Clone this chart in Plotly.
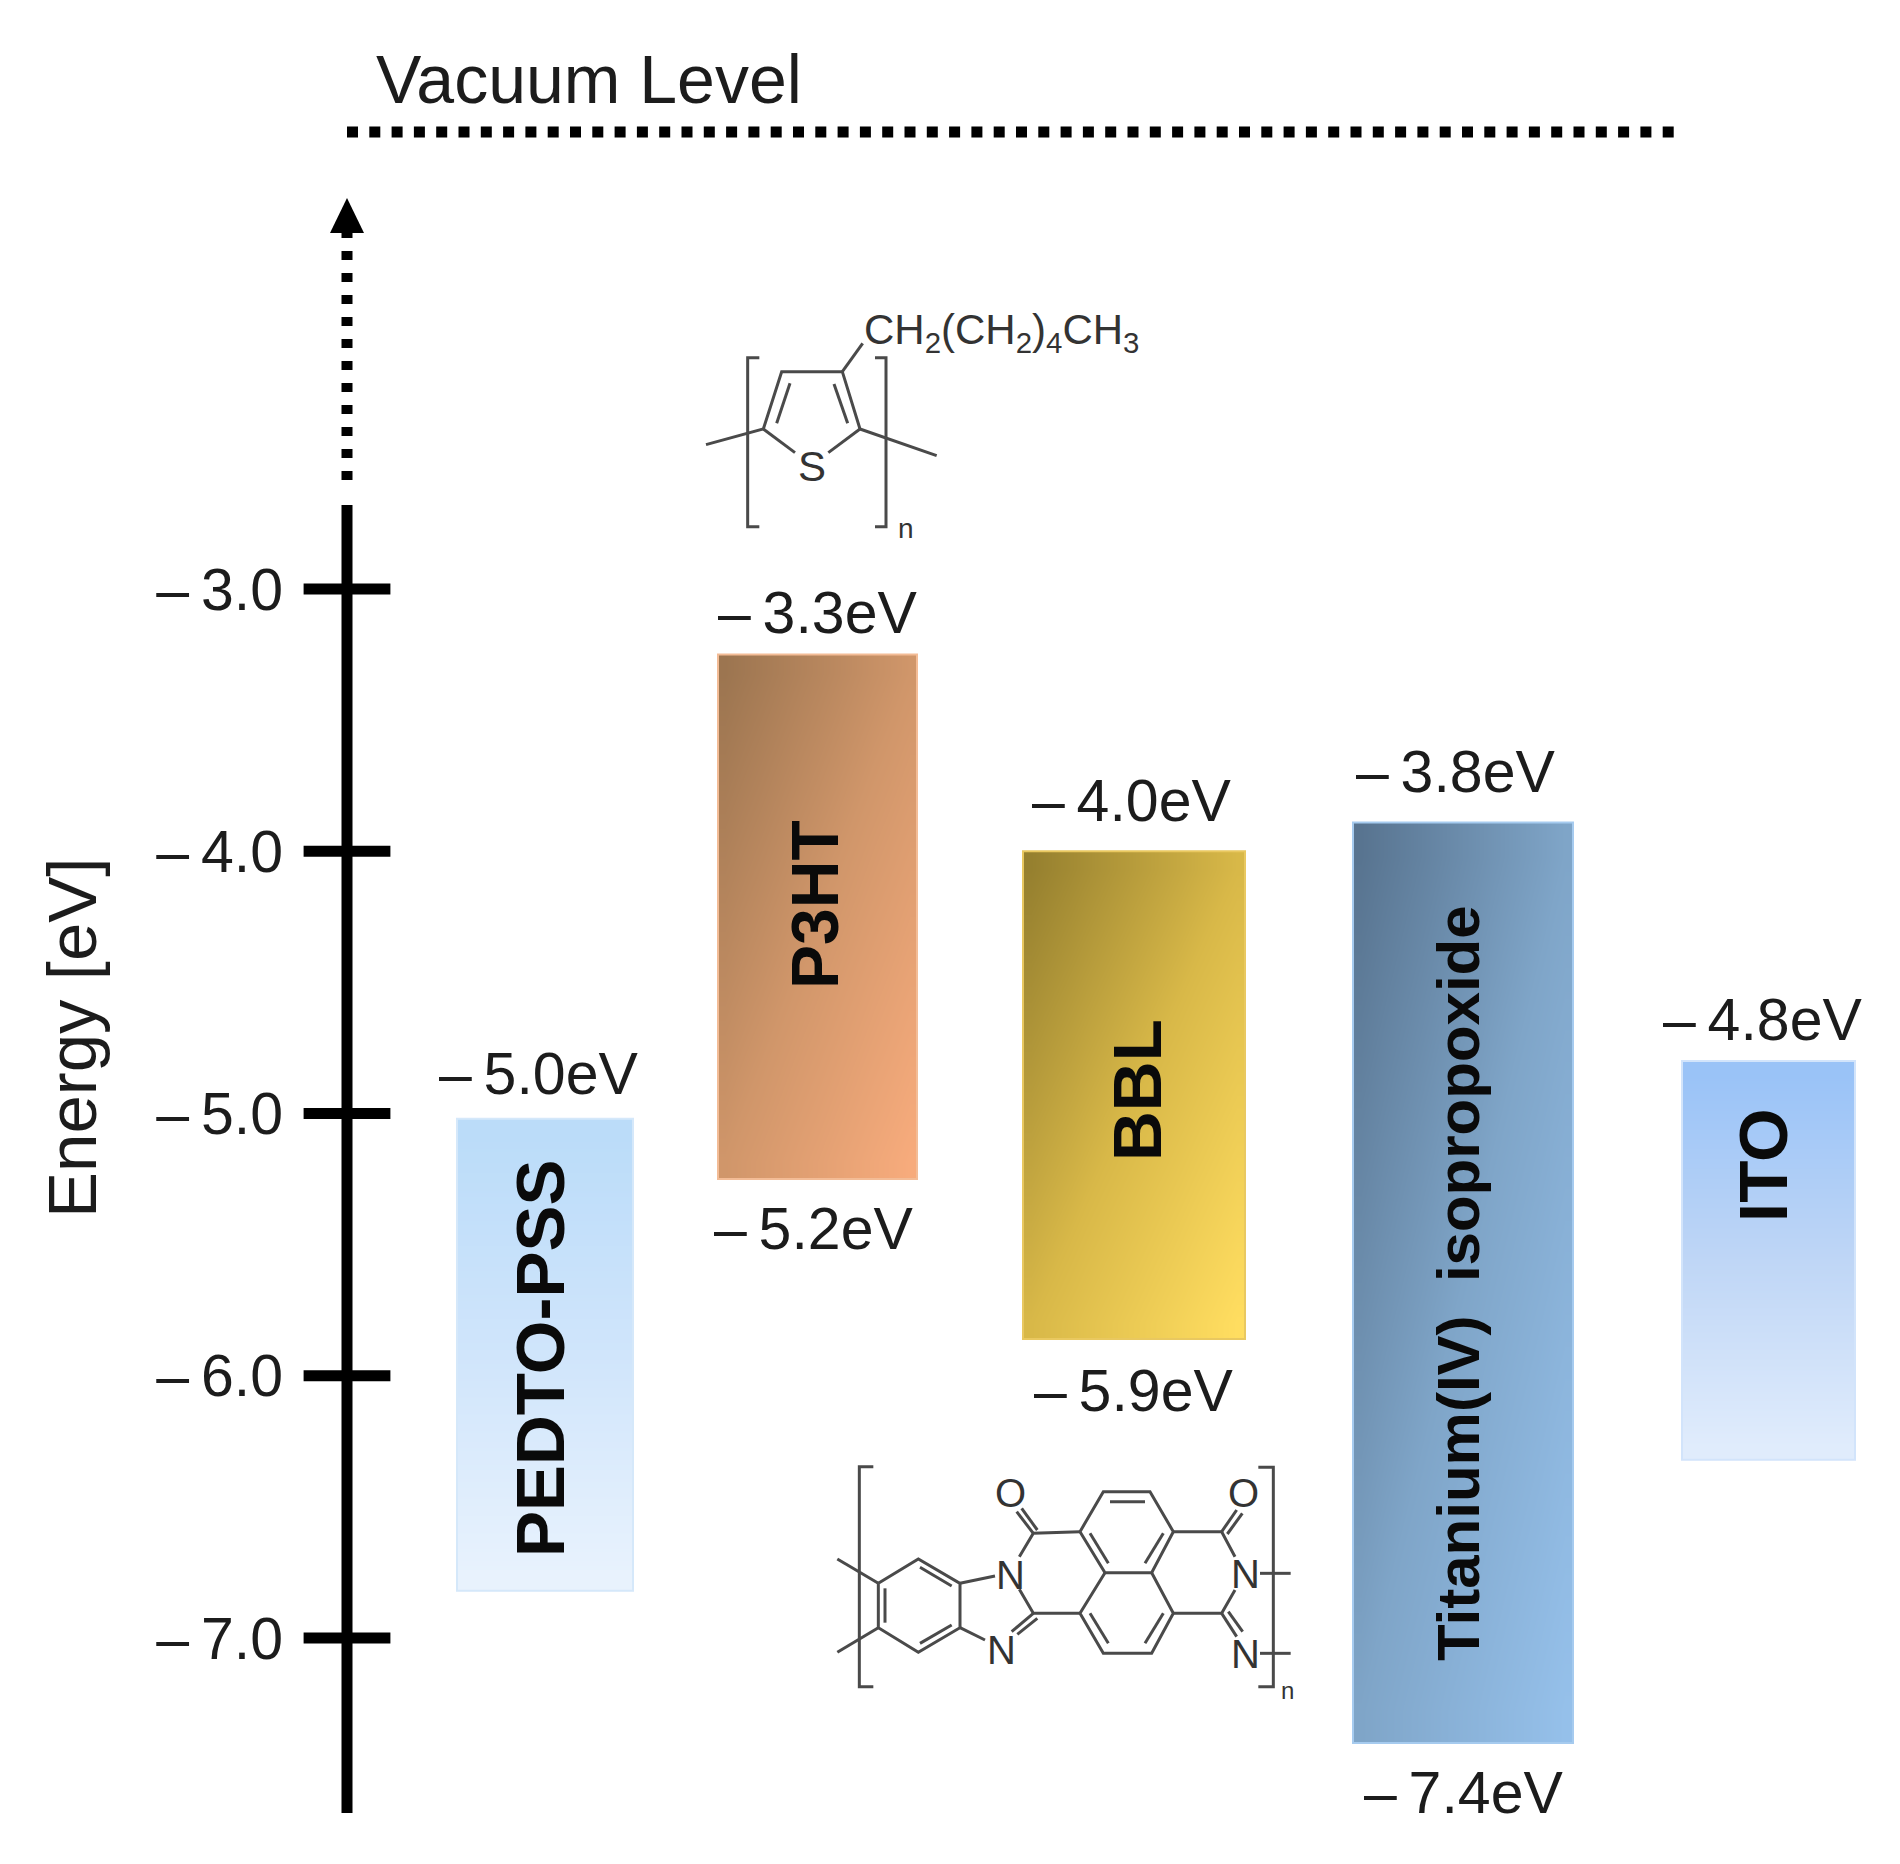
"""Energy level diagram for the P3HT / BBL device stack."""

import numpy as np
import plotly.graph_objects as go

# Energy levels (eV)
materials = ["PEDTO-PSS", "P3HT", "BBL", "Titanium(IV)  isopropoxide", "ITO"]
band_top = [-5.02, -3.25, -4.0, -3.89, -4.8]
band_bottom = [-6.82, -5.25, -5.86, -7.4, -6.32]

level_labels_top = ["5.0eV", "3.3eV", "4.0eV", "3.8eV", "4.8eV"]
level_labels_bottom = [None, "5.2eV", "5.9eV", "7.4eV", None]

axis_ticks = [-3.0, -4.0, -5.0, -6.0, -7.0]
axis_tick_labels = ["\u2013\u20093.0", "\u2013\u20094.0", "\u2013\u20095.0", "\u2013\u20096.0", "\u2013\u20097.0"]

# Layout of the page, x is in page pixels
W, H = 1900, 1864
PX_PER_EV = 262.25
Y_AT_TOP = -3.0 + 589 / PX_PER_EV
AXIS_X = 347

band_left = [457, 718, 1023, 1353, 1682]
band_right = [633, 917, 1245, 1573, 1855]
band_diagonal = [False, True, True, True, False]
band_colors = [
    ("#BBDCF9", "#D0E5FB", "#E8F2FD"),
    ("#9C7550", "#D0966A", "#F7AB7C"),
    ("#96802F", "#D8B848", "#FFDD60"),
    ("#587490", "#7FA5C8", "#95C0EA"),
    ("#9AC3F7", "#BFD6F6", "#E0ECFC"),
]
band_edges = ["#D5E8FA", "#F3BC96", "#E9C860", "#A6CBEF", "#D2E4FB"]
label_sizes = [69, 66, 69, 60, 69]
label_x = [540, 815, 1137, 1458, 1763]
label_y = [1358, 905, 1090, 1283, 1165]

top_label_pos = [(538, 1074), (817, 613), (1131, 801), (1455, 772), (1762, 1020)]
bottom_label_pos = [None, (813, 1229), (1133, 1391), (1463, 1793), None]

# Skeletal formulas, in pixels of the zoomed crops (3x)
P3HT_ORIGIN = (680, 280)
P3HT_BONDS = [
    [(78, 494), (250, 447), (305, 275), (487, 275), (540, 447), (770, 527)],
    [(290, 430), (330, 310)],
    [(462, 312), (503, 430)],
    [(250, 447), (345, 518)],
    [(540, 447), (445, 518)],
    [(487, 275), (548, 190)],
    [(238, 233), (203, 233), (203, 740), (238, 740)],
    [(585, 233), (618, 233), (618, 740), (585, 740)],
]
BBL_ORIGIN = (820, 1450)
BBL_BONDS = [
    [(160, 50), (118, 50), (118, 710), (160, 710)],
    [(1315, 52), (1360, 52), (1360, 710), (1315, 710)],
    [(52, 327), (175, 400)],
    [(52, 607), (175, 533)],
    [(175, 400), (295, 327), (420, 400), (420, 533), (295, 607), (175, 533), (175, 400)],
    [(195, 415), (195, 518)],
    [(300, 352), (395, 408)],
    [(300, 580), (395, 525)],
    [(420, 400), (525, 378)],
    [(420, 533), (495, 570)],
    [(598, 320), (640, 250), (780, 245)],
    [(598, 418), (640, 490), (780, 490)],
    [(640, 490), (575, 545)],
    [(652, 505), (592, 553)],
    [(640, 250), (590, 185)],
    [(652, 240), (605, 175)],
    [(780, 245), (850, 125), (990, 125), (1060, 245), (995, 368), (855, 368), (780, 245)],
    [(855, 368), (780, 490), (850, 610), (995, 610), (1060, 490), (995, 368)],
    [(870, 155), (975, 155)],
    [(810, 250), (865, 340)],
    [(1030, 250), (975, 340)],
    [(810, 490), (865, 580)],
    [(1030, 490), (975, 580)],
    [(1060, 245), (1205, 245), (1245, 320)],
    [(1060, 490), (1205, 490), (1245, 420)],
    [(1205, 245), (1250, 180)],
    [(1222, 252), (1267, 190)],
    [(1205, 490), (1250, 560)],
    [(1225, 485), (1268, 545)],
    [(1320, 370), (1412, 370)],
    [(1320, 610), (1412, 610)],
]
# text inside the formulas: text, x, y in crop pixels, size
P3HT_ATOMS = [("S", 397, 558, 42), ("n", 678, 745, 28)]
BBL_ATOMS = [
    ("O", 570, 130, 40), ("O", 1270, 130, 40), ("N", 570, 375, 40), ("N", 545, 600, 40),
    ("N", 1275, 372, 40), ("N", 1275, 612, 40), ("n", 1402, 720, 24),
]


def ev(py):
    """Energy at a given page pixel row."""
    return Y_AT_TOP - py / PX_PER_EV


def add_text(fig, text, x, py, size, color="#1c1c1c", bold=False, angle=0, xanchor="center"):
    fig.add_annotation(
        text=f"<b>{text}</b>" if bold else text,
        x=x,
        y=ev(py),
        showarrow=False,
        textangle=angle,
        xanchor=xanchor,
        yanchor="middle",
        font=dict(family="Liberation Sans", size=size, color=color),
    )


def add_formula(fig, bonds, origin, atoms):
    xs, ys = [], []
    for path in bonds:
        for zx, zy in path:
            xs.append(origin[0] + zx / 3)
            ys.append(ev(origin[1] + zy / 3))
        xs.append(None)
        ys.append(None)
    fig.add_trace(go.Scatter(x=xs, y=ys, mode="lines", line=dict(color="#4a4a4a", width=3), hoverinfo="skip"))
    for text, zx, zy, size in atoms:
        add_text(fig, text, origin[0] + zx / 3, origin[1] + zy / 3, size, color="#333333")


fig = go.Figure()

# Bands with their colour gradients
steps = 14
for i, name in enumerate(materials):
    xs = np.linspace(band_left[i], band_right[i], steps + 1)
    ys = np.linspace(band_bottom[i], band_top[i], steps + 1)
    fx = np.linspace(0, 1, steps)
    fy = np.linspace(0, 1, steps)
    if band_diagonal[i]:
        z = (fx[None, :] + (1 - fy[:, None])) / 2
    else:
        z = np.repeat((1 - fy)[:, None], steps, axis=1)
    fig.add_trace(
        go.Heatmap(
            x=xs,
            y=ys,
            z=z,
            zmin=0,
            zmax=1,
            zsmooth="best",
            colorscale=[[0, band_colors[i][0]], [0.5, band_colors[i][1]], [1, band_colors[i][2]]],
            showscale=False,
            hoverinfo="skip",
        )
    )
    fig.add_shape(
        type="rect",
        x0=band_left[i],
        x1=band_right[i],
        y0=band_bottom[i],
        y1=band_top[i],
        line=dict(color=band_edges[i], width=2),
    )
    add_text(fig, name, label_x[i], label_y[i], label_sizes[i], color="#0a0a0a", bold=True, angle=-90)
    add_text(fig, "\u2013\u2009" + level_labels_top[i], top_label_pos[i][0], top_label_pos[i][1], 59)
    if level_labels_bottom[i]:
        add_text(fig, "\u2013\u2009" + level_labels_bottom[i], bottom_label_pos[i][0], bottom_label_pos[i][1], 59)

# Energy axis
fig.add_trace(
    go.Scatter(
        x=[AXIS_X, AXIS_X],
        y=[ev(505), ev(1813)],
        mode="lines",
        line=dict(color="black", width=11),
        hoverinfo="skip",
    )
)
fig.add_trace(
    go.Scatter(
        x=[AXIS_X] * len(axis_ticks),
        y=axis_ticks,
        mode="markers",
        marker=dict(symbol="line-ew", size=62, line=dict(color="black", width=11)),
        hoverinfo="skip",
    )
)
# Dotted continuation and arrow head
fig.add_trace(
    go.Scatter(
        x=[AXIS_X, AXIS_X],
        y=[ev(480), ev(232)],
        mode="lines",
        line=dict(color="black", width=11, dash="9px,13px"),
        hoverinfo="skip",
    )
)
fig.add_trace(
    go.Scatter(
        x=[AXIS_X - 17, AXIS_X, AXIS_X + 17],
        y=[ev(233), ev(198), ev(233)],
        mode="lines",
        fill="toself",
        fillcolor="black",
        line=dict(color="black", width=0),
        hoverinfo="skip",
    )
)
# Vacuum level
fig.add_trace(
    go.Scatter(
        x=[AXIS_X, 1685],
        y=[ev(132), ev(132)],
        mode="lines",
        line=dict(color="black", width=11, dash="11px,11.3px"),
        hoverinfo="skip",
    )
)
add_text(fig, "Vacuum Level", 589, 79, 68)
add_text(fig, "Energy [eV]", 72, 1038, 69, angle=-90)

# Molecules
add_formula(fig, P3HT_BONDS, P3HT_ORIGIN, P3HT_ATOMS)
add_formula(fig, BBL_BONDS, BBL_ORIGIN, BBL_ATOMS)
fig.add_annotation(
    text="CH<sub>2</sub>(CH<sub>2</sub>)<sub>4</sub>CH<sub>3</sub>",
    x=862,
    y=ev(332),
    showarrow=False,
    xanchor="left",
    yanchor="middle",
    font=dict(family="Liberation Sans", size=42, color="#333333"),
)

fig.update_xaxes(range=[0, W], visible=False, fixedrange=True)
fig.update_yaxes(
    range=[ev(H), Y_AT_TOP],
    anchor="free",
    position=283 / W,
    showgrid=False,
    zeroline=False,
    showline=False,
    ticks="",
    tickmode="array",
    tickvals=axis_ticks,
    ticktext=axis_tick_labels,
    tickfont=dict(family="Liberation Sans", size=59, color="#1c1c1c"),
    fixedrange=True,
)
fig.update_layout(
    width=W,
    height=H,
    margin=dict(l=0, r=0, t=0, b=0),
    paper_bgcolor="white",
    plot_bgcolor="white",
    showlegend=False,
)

# the page's default body margin would push the figure 8px in
fig.write_html(
    "out.html",
    config={"displayModeBar": False},
    post_script="document.body.style.margin = '0';",
)
